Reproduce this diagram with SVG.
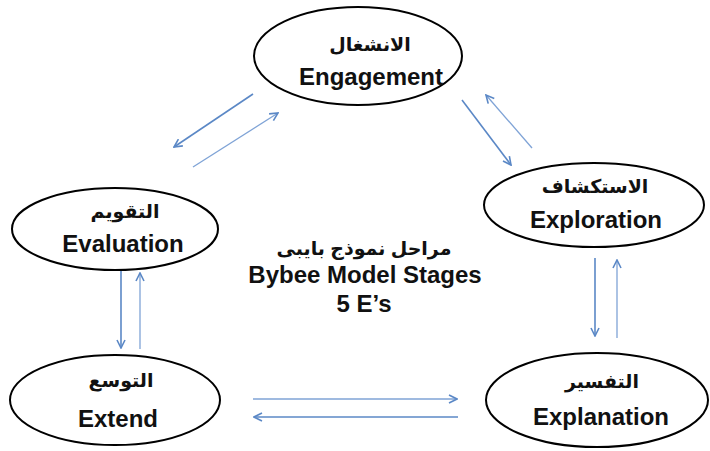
<svg xmlns="http://www.w3.org/2000/svg" width="710" height="451" viewBox="0 0 710 451">
<style>
.node ellipse{fill:#fff;stroke:#000;stroke-width:2}
text{font-family:"Liberation Sans","DejaVu Sans",sans-serif;font-weight:bold;fill:#111;text-anchor:middle}
.en{font-size:24px}
.ar{font-size:19px}
.conn line{stroke:#5b88c6;stroke-width:1.6;fill:none}
.conn line.l{stroke:#7fa3d6;stroke-width:1.3}
</style>
<defs>
<marker id="ah" viewBox="0 0 10 10" refX="9" refY="5" markerWidth="10" markerHeight="10" markerUnits="userSpaceOnUse" orient="auto">
<polyline points="1,1 9,5 1,9" fill="none" stroke="#5b88c6" stroke-width="1.6"/>
</marker>
</defs>
<rect width="710" height="451" fill="#fff"/>
<g class="conn">
<line x1="253" y1="94" x2="174" y2="147" marker-end="url(#ah)"/>
<line class="l" x1="193" y1="167" x2="278" y2="113" marker-end="url(#ah)"/>
<line x1="462" y1="100" x2="511" y2="165" marker-end="url(#ah)"/>
<line class="l" x1="532" y1="148" x2="486" y2="95" marker-end="url(#ah)"/>
<line x1="121" y1="270" x2="121" y2="348" marker-end="url(#ah)"/>
<line class="l" x1="140" y1="349" x2="140" y2="273" marker-end="url(#ah)"/>
<line x1="595" y1="258" x2="595" y2="336" marker-end="url(#ah)"/>
<line class="l" x1="617" y1="338" x2="617" y2="260" marker-end="url(#ah)"/>
<line class="l" x1="253" y1="399" x2="457" y2="399" marker-end="url(#ah)"/>
<line x1="458" y1="417" x2="254" y2="417" marker-end="url(#ah)"/>
</g>
<g id="engagement" class="node">
<ellipse cx="358" cy="56" rx="104" ry="49"/>
<text class="ar" x="370" y="51">الانشغال</text>
<text class="en" x="371" y="85">Engagement</text>
</g>
<g id="exploration" class="node">
<ellipse cx="594" cy="205" rx="110" ry="42"/>
<text class="ar" x="595" y="193">الاستكشاف</text>
<text class="en" x="596" y="228">Exploration</text>
</g>
<g id="evaluation" class="node">
<ellipse cx="115" cy="229" rx="103" ry="41"/>
<text class="ar" x="125" y="218">التقويم</text>
<text class="en" x="123" y="252">Evaluation</text>
</g>
<g id="extend" class="node">
<ellipse cx="115" cy="400" rx="105" ry="45"/>
<text class="ar" x="121" y="387">التوسع</text>
<text class="en" x="118" y="427">Extend</text>
</g>
<g id="explanation" class="node">
<ellipse cx="597" cy="400" rx="111" ry="47"/>
<text class="ar" x="602" y="388">التفسير</text>
<text class="en" x="601" y="425">Explanation</text>
</g>
<g id="title">
<text class="ar" x="364" y="255">مراحل نموذج بايبى</text>
<text class="en" x="365" y="283">Bybee Model Stages</text>
<text class="en" x="364" y="312">5 E’s</text>
</g>
</svg>
